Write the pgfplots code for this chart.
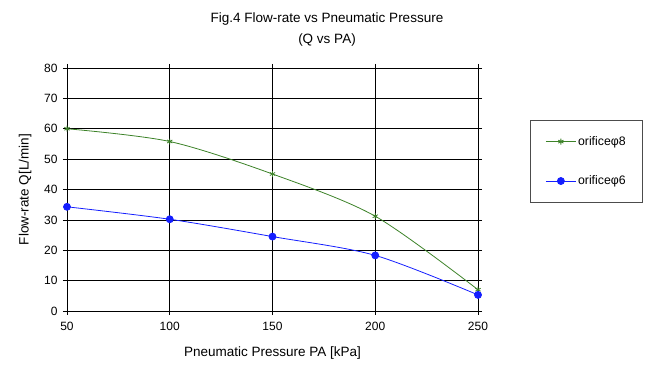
\documentclass[border=0pt]{standalone}
\usepackage{pgfplots}
\pgfplotsset{compat=1.18}
\usepackage{fontspec}
\setmainfont{Liberation Sans}
\definecolor{gline}{RGB}{60,130,40}
\definecolor{bline}{RGB}{20,30,255}
\begin{document}
\begin{tikzpicture}[x=1pt,y=1pt]
\path (-67,-76) rectangle (587,311);
\begin{axis}[
  at={(0,0)}, anchor=south west,
  scale only axis, width=411pt, height=243pt,
  xmin=50, xmax=250, ymin=0, ymax=80,
  xtick={50,100,150,200,250}, ytick={0,10,...,80},
  grid=major, major grid style={black, line width=0.7pt},
  axis line style={black, line width=0.7pt},
  tick align=outside, major tick length=4pt,
  tick style={black, line width=0.7pt},
  ticklabel style={font=\fontsize{12}{14}\selectfont},
  xticklabel style={yshift=-4pt},
  yticklabel style={xshift=-2pt},
  /pgf/number format/assume math mode=true,
  xlabel={Pneumatic Pressure PA [kPa]},
  ylabel={Flow-rate Q[L/min]},
  label style={font=\fontsize{13.5}{15}\selectfont},
  xlabel style={at={(axis description cs:0.5,-0.173)}, anchor=center},
  ylabel style={at={(axis description cs:-0.102,0.5)}, anchor=center},
  legend style={at={(1.1265,0.786)}, anchor=north west, draw=black!70, line width=0.8pt,
    font=\fontsize{12.3}{14}\selectfont, inner xsep=15pt, inner ysep=14pt, row sep=25pt},
  legend cell align=left,
  legend image code/.code={\draw[#1] (0cm,0cm) -- (1.05cm,0cm);
     \draw[#1, only marks] plot coordinates {(0.53cm,0cm)};},
  clip=false,
]
\addplot[gline, line width=0.8pt, smooth, tension=0.5, mark=asterisk, mark size=3pt, mark options={solid,gline}]
  coordinates {(50,60) (100,55.8) (150,45.1) (200,31.2) (250,7)};
\addlegendentry{orificeφ8}
\addplot[bline, line width=0.8pt, smooth, tension=0.5, mark=*, mark size=3.5pt, mark options={solid,fill=bline,draw=bline}]
  coordinates {(50,34.3) (100,30.2) (150,24.5) (200,18.3) (250,5.3)};
\addlegendentry{orificeφ6}
\end{axis}
\node[font=\fontsize{13.5}{15}\selectfont] at (260,292) {Fig.4 Flow-rate vs Pneumatic Pressure};
\node[font=\fontsize{13.5}{15}\selectfont] at (260,271) {(Q vs PA)};
\end{tikzpicture}
\end{document}
